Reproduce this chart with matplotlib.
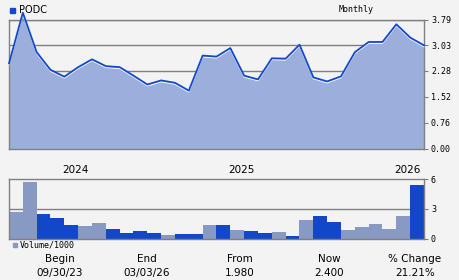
import matplotlib
matplotlib.use("Agg")
import matplotlib.pyplot as plt
import numpy as np

# ---- data ----
price = [2.50, 3.99, 2.83, 2.31, 2.11, 2.39, 2.62, 2.42, 2.39, 2.14,
         1.88, 2.00, 1.93, 1.70, 2.73, 2.70, 2.95, 2.14, 2.03, 2.65,
         2.64, 3.05, 2.09, 1.97, 2.12, 2.83, 3.13, 3.13, 3.65, 3.26, 3.03]
volume = [2.7, 5.7, 2.5, 2.1, 1.4, 1.28, 1.58, 0.98, 0.57, 0.77,
          0.57, 0.37, 0.47, 0.47, 1.4, 1.4, 0.88, 0.77, 0.57, 0.67,
          0.27, 1.89, 2.29, 1.68, 0.88, 1.18, 1.48, 0.98, 2.29, 5.4]
vol_dark = [0, 0, 1, 1, 1, 0, 0, 1, 1, 1,
            1, 0, 1, 1, 0, 1, 0, 1, 1, 0,
            1, 0, 1, 1, 0, 0, 0, 0, 0, 1]
price_ticks = [0.00, 0.76, 1.52, 2.28, 3.03, 3.79]
vol_ticks = [0, 3, 6]
year_labels = ["2024", "2025", "2026"]
year_pos = [4.8, 16.8, 28.8]
ticker = "PODC"
stats_head = ["Begin", "End", "From", "Now", "% Change"]
stats_vals = ["09/30/23", "03/03/26", "1.980", "2.400", "21.21%"]

BG = "#f3f3f3"
FILL = "#9cafdc"
LINE = "#1248cc"
LIGHT = "#8899c4"
DARK = "#1248c8"
GRID = "#808080"

fig = plt.figure(figsize=(4.6, 2.8), dpi=100, facecolor=BG)
W, H = 460.0, 280.0

def ax_rect(l, t, r, b):
    return [l / W, 1 - b / H, (r - l) / W, (b - t) / H]

# ---- price panel ----
ax = fig.add_axes(ax_rect(9, 19.5, 424, 148.5))
ax.set_facecolor(BG)
x = np.arange(len(price))
ax.set_xlim(0, len(price) - 1)
ax.set_ylim(0, 3.79)
for t in price_ticks:
    ax.axhline(t, color=GRID, lw=1.0, zorder=1)
ax.fill_between(x, 0, price, color=FILL, zorder=2, clip_on=False, lw=0)
ax.plot(x, np.array(price) - 0.04, color="white", lw=0.8, zorder=3, clip_on=False)
ax.plot(x, price, color=LINE, lw=1.3, zorder=4, clip_on=False)
ax.set_yticks(price_ticks)
ax.set_yticklabels([f"{t:.2f}" for t in price_ticks], family="DejaVu Sans Mono", fontsize=6)
ax.yaxis.tick_right()
ax.tick_params(axis="y", length=3, width=0.8, color=GRID, pad=2)
ax.set_xticks([])
for s in ax.spines.values():
    s.set_color(GRID)
    s.set_linewidth(1.0)

# ---- volume panel ----
av = fig.add_axes(ax_rect(9, 179.3, 424, 238.7))
av.set_facecolor(BG)
vx = np.arange(len(volume)) + 0.5
av.set_xlim(0, len(volume))
av.set_ylim(0, 6)
av.axhline(3, color=GRID, lw=1.0, zorder=1)
av.bar(vx, volume, width=1.0, color=[DARK if d else LIGHT for d in vol_dark], zorder=2, lw=0)
av.set_yticks(vol_ticks)
av.set_yticklabels([str(t) for t in vol_ticks], family="DejaVu Sans Mono", fontsize=6)
av.yaxis.tick_right()
av.tick_params(axis="y", length=3, width=0.8, color=GRID, pad=2)
av.set_xticks([])
for s in av.spines.values():
    s.set_color(GRID)
    s.set_linewidth(1.0)

# year labels between panels
for lab, p in zip(year_labels, year_pos):
    xf = (9 + p / 30 * 415) / W
    fig.text(xf, 1 - 170 / H, lab, ha="center", va="center", fontsize=7.5, family="DejaVu Sans")

# legends / titles
fig.patches.append(plt.Rectangle((10 / W, 1 - 13 / H), 5 / W, 5 / H, transform=fig.transFigure,
                                 color=LINE, figure=fig))
fig.text(19 / W, 1 - 10 / H, ticker, ha="left", va="center", fontsize=7, family="DejaVu Sans")
fig.text(356 / W, 1 - 10 / H, "Monthly", ha="center", va="center", fontsize=6, family="DejaVu Sans Mono")
fig.patches.append(plt.Rectangle((13 / W, 1 - 247 / H), 4 / W, 4 / H, transform=fig.transFigure,
                                 color=LIGHT, figure=fig))
fig.text(20 / W, 1 - 245 / H, "Volume/1000", ha="left", va="center", fontsize=6, family="DejaVu Sans Mono")

# stats
stat_x = [60, 147, 240, 329, 415]
for sx, h, v in zip(stat_x, stats_head, stats_vals):
    fig.text(sx / W, 1 - 259 / H, h, ha="center", va="center", fontsize=7.5, family="DejaVu Sans")
    fig.text(sx / W, 1 - 273 / H, v, ha="center", va="center", fontsize=7.5, family="DejaVu Sans")

fig.savefig("out.png", dpi=100, facecolor=BG)
